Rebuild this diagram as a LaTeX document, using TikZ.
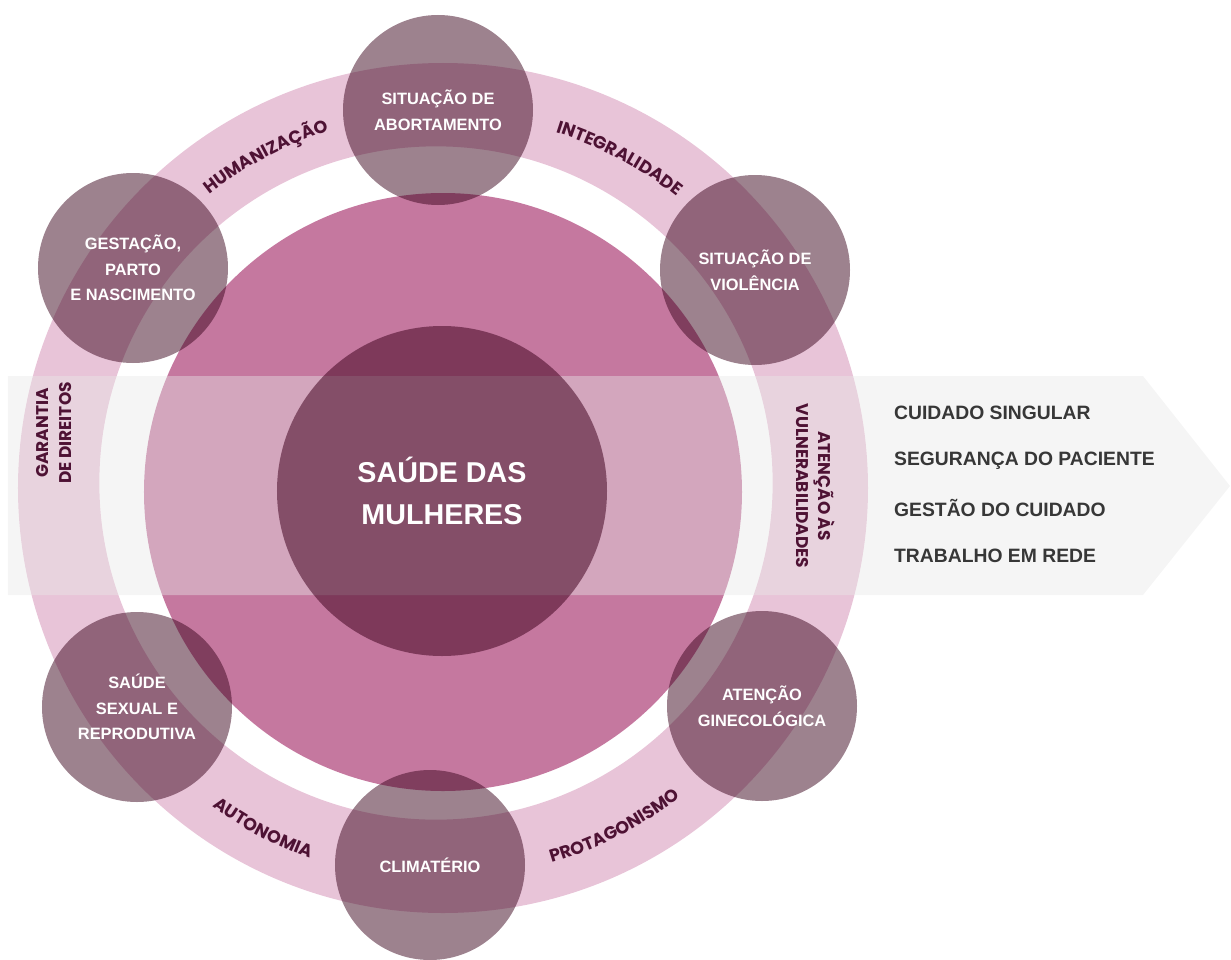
\documentclass[tikz,border=0pt]{standalone}
\usepackage{fontspec}
\setmainfont{Liberation Sans}
\newfontfamily\ringfont{Poppins}
\usetikzlibrary{positioning,decorations.text}

\definecolor{ringpink}{RGB}{232,196,216}
\definecolor{midpink}{RGB}{197,120,159}
\definecolor{bandgray}{RGB}{232,232,232}
\definecolor{plum}{RGB}{68,7,35}
\definecolor{mauve}{RGB}{60,5,30}
\definecolor{labelplum}{RGB}{78,18,52}
\definecolor{listgray}{RGB}{55,55,55}

\tikzset{
  theme/.style={circle, fill=mauve, fill opacity=0.5, text opacity=1, text=white,
    minimum size=5.7cm, inner sep=0pt, align=center,
    font=\bfseries\fontsize{14}{22}\selectfont},
  core/.style={circle, fill=plum, fill opacity=0.55, text opacity=1, text=white,
    minimum size=9.9cm, inner sep=0pt, align=center,
    font=\bfseries\fontsize{24.5}{36}\selectfont},
  axis/.style={text=labelplum, align=center, font=\ringfont\bfseries\fontsize{14.5}{19}\selectfont},
  item/.style={text=listgray, anchor=west, font=\bfseries\fontsize{16.5}{20}\selectfont},
  arclabel/.style={decorate, decoration={text along path, text align=center,
    text color=labelplum, text={|\ringfont\bfseries\fontsize{15}{16}\selectfont|#1}}},
}

\begin{document}
\begin{tikzpicture}
\useasboundingbox (-13.29,-14.07) rectangle (23.64,14.7);

% rings
\fill[ringpink, even odd rule] (0,0.06) circle (12.75) (-0.21,0.21) circle (10.1);
\fill[midpink] (0,-0.06) circle (8.97);

% band
\fill[bandgray, fill opacity=0.42] (-13.05,3.42) -- (21.0,3.42) -- (23.61,0.12)
  -- (21.0,-3.15) -- (-13.05,-3.15) -- cycle;

\node[core] (saude) at (-0.03,-0.03) {SAÚDE DAS\\MULHERES};

\node[theme] (abort) at (-0.15,11.4) {SITUAÇÃO DE\\ABORTAMENTO};
\node[theme] (violencia) at (9.36,6.6) {SITUAÇÃO DE\\VIOLÊNCIA};
\node[theme] (gineco) at (9.57,-6.48) {ATENÇÃO\\GINECOLÓGICA};
\node[theme] (climat) at (-0.39,-11.25) {CLIMATÉRIO};
\node[theme] (sexual) at (-9.18,-6.51) {SAÚDE\\SEXUAL E\\REPRODUTIVA};
\node[theme] (gestacao) at (-9.3,6.66) {GESTAÇÃO,\\PARTO\\E NASCIMENTO};

\path[arclabel=HUMANIZAÇÃO] (145:11.3) arc[start angle=145, end angle=91, radius=11.3];
\path[arclabel=INTEGRALIDADE] (89:11.25) arc[start angle=89, end angle=35, radius=11.25];
\path[arclabel=AUTONOMIA] (-145:11.75) arc[start angle=-145, end angle=-91, radius=11.75];
\path[arclabel=PROTAGONISMO] (-90:11.65) arc[start angle=-90, end angle=-36, radius=11.65];

\node[axis, rotate=90] (garantia) at (-11.67,1.71) {GARANTIA\\DE DIREITOS};
\node[axis, rotate=-90] (vulner) at (11.19,0.12) {ATENÇÃO ÀS\\VULNERABILIDADES};

\node[item] (cuidado) at (13.41,2.31) {CUIDADO SINGULAR};
\node[item, below=1.43cm of cuidado.west, anchor=west] (seguranca) {SEGURANÇA DO PACIENTE};
\node[item, below=1.43cm of seguranca.west, anchor=west] (gestao) {GESTÃO DO CUIDADO};
\node[item, below=1.43cm of gestao.west, anchor=west] (rede) {TRABALHO EM REDE};
\end{tikzpicture}
\end{document}
